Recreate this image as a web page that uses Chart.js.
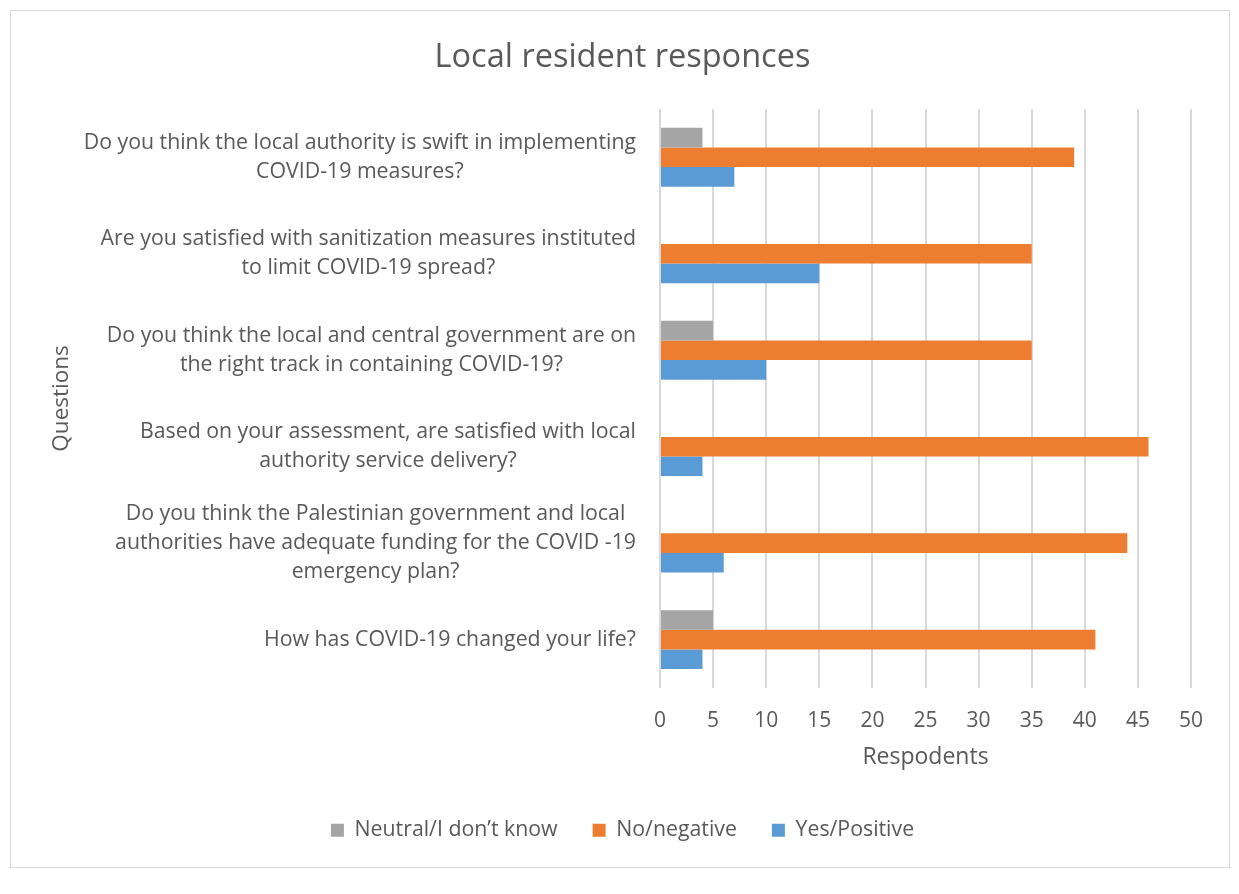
<!DOCTYPE html>
<html>
<head>
<meta charset="utf-8">
<script src="https://cdn.jsdelivr.net/npm/chart.js@4.4.0/dist/chart.umd.min.js"></script>
<style>
    body { margin: 0; background: #ffffff; }
    #frame {
        position: absolute;
        left: 10px; top: 10px;
        width: 1218px; height: 856px;
        border: 1px solid #d9d9d9;
        background: #ffffff;
    }
</style>
</head>
<body>
<div id="frame"><canvas id="responsesChart" width="1218" height="856"></canvas></div>
<script>
const questions = [
    ['Do you think the local authority is swift in implementing', 'COVID-19 measures?'],
    ['Are you satisfied with sanitization measures instituted', 'to limit COVID-19 spread?'],
    ['Do you think the local and central government are on', 'the right track in containing COVID-19?'],
    ['Based on your assessment, are satisfied with local', 'authority service delivery?'],
    ['Do you think the Palestinian government and local', 'authorities have adequate funding for the COVID -19', 'emergency plan?'],
    ['How has COVID-19 changed your life?']
];
const neutralValues  = [4, 0, 5, 0, 0, 5];
const negativeValues = [39, 35, 35, 46, 44, 41];
const positiveValues = [7, 15, 10, 4, 6, 4];
const xTicks = [0, 5, 10, 15, 20, 25, 30, 35, 40, 45, 50];

const FONT = '"Open Sans", Lato, sans-serif';
const TEXT_COLOR = '#595959';
const PAD_LEFT = 43;

/**
 * Dibuja las etiquetas del eje Y: cada bloque alineado a la derecha,
 * y sus líneas centradas entre sí (como en Excel)
 */
const blockLabels = {
    id: 'blockLabels',
    afterDraw(chart) {
        const ctx = chart.ctx;
        const yScale = chart.scales.y;
        const right = chart.chartArea.left - 24;
        const lineHeight = 29;
        ctx.save();
        ctx.font = '21.3px ' + FONT;
        ctx.fillStyle = TEXT_COLOR;
        ctx.textAlign = 'center';
        ctx.textBaseline = 'middle';
        questions.forEach((lines, i) => {
            const center = yScale.getPixelForTick(i);
            const widest = Math.max(...lines.map(l => ctx.measureText(l).width));
            const x = right - widest / 2;
            const top = center - (lines.length - 1) * lineHeight / 2;
            lines.forEach((line, j) => ctx.fillText(line, x, top + j * lineHeight));
        });
        ctx.restore();
    }
};

const ctx = document.getElementById('responsesChart').getContext('2d');
const responsesChart = new Chart(ctx, {
    type: 'bar',
    data: {
        labels: questions,
        datasets: [{
            label: 'Neutral/I don\u2019t know',
            data: neutralValues,
            backgroundColor: '#A5A5A5'
        }, {
            label: 'No/negative',
            data: negativeValues,
            backgroundColor: '#ED7D31'
        }, {
            label: 'Yes/Positive',
            data: positiveValues,
            backgroundColor: '#5B9BD5'
        }]
    },
    options: {
        indexAxis: 'y',
        responsive: false,
        animation: false,
        categoryPercentage: 0.61,
        barPercentage: 1,
        layout: { padding: { left: PAD_LEFT, right: 38, top: 0, bottom: 16 } },
        plugins: {
            title: {
                display: true,
                text: 'Local resident responces',
                color: TEXT_COLOR,
                font: { family: FONT, size: 32.5, weight: 'normal' },
                padding: { top: 27, bottom: 32 }
            },
            legend: {
                position: 'bottom',
                labels: {
                    color: TEXT_COLOR,
                    font: { family: FONT, size: 21.3 },
                    boxWidth: 13,
                    boxHeight: 13,
                    padding: 35
                }
            },
            tooltip: { enabled: false }
        },
        scales: {
            x: {
                min: 0,
                max: 50,
                afterBuildTicks: scale => {
                    scale.ticks = xTicks.map(v => ({ value: v }));
                },
                grid: { color: '#D9D9D9', lineWidth: 2, drawTicks: false },
                border: { display: false },
                ticks: {
                    color: TEXT_COLOR,
                    font: { family: FONT, size: 21 },
                    padding: 21
                },
                title: {
                    display: true,
                    text: 'Respodents',
                    color: TEXT_COLOR,
                    font: { family: FONT, size: 23 },
                    padding: { top: -11, bottom: 13 }
                }
            },
            y: {
                grid: { display: false },
                border: { display: false },
                ticks: { color: 'rgba(0,0,0,0)', font: { family: FONT, size: 20 } },
                afterFit: scale => { scale.width = 649 - PAD_LEFT; },
                title: {
                    display: true,
                    text: 'Questions',
                    color: TEXT_COLOR,
                    font: { family: FONT, size: 22.5 },
                    padding: { top: 37 - PAD_LEFT, bottom: 0 }
                }
            }
        }
    },
    plugins: [blockLabels]
});
</script>
</body>
</html>
